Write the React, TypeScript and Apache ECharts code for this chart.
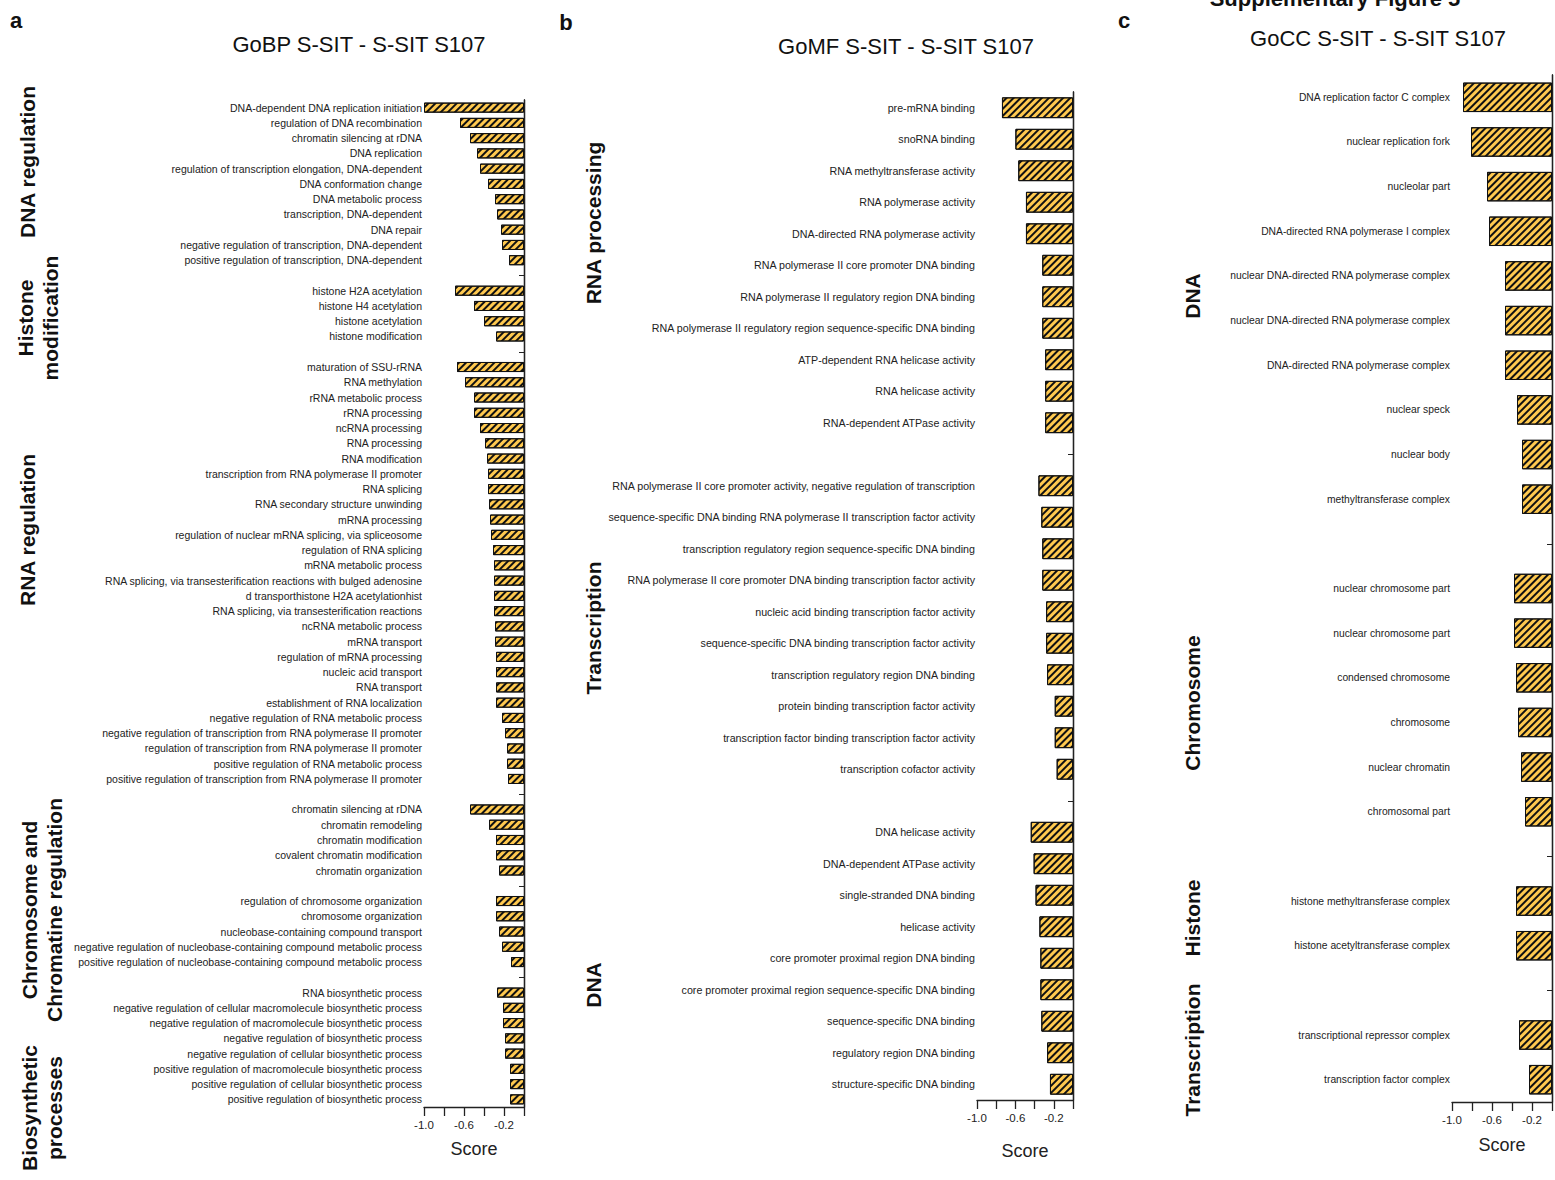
import React, { useEffect, useRef } from "react";
import * as echarts from "echarts";

// ---------- Panel a : GoBP ----------
const aCategories = [
  "DNA-dependent DNA replication initiation",
  "regulation of DNA recombination",
  "chromatin silencing at rDNA",
  "DNA replication",
  "regulation of transcription elongation, DNA-dependent",
  "DNA conformation change",
  "DNA metabolic process",
  "transcription, DNA-dependent",
  "DNA repair",
  "negative regulation of transcription, DNA-dependent",
  "positive regulation of transcription, DNA-dependent",
  "",
  "histone H2A acetylation",
  "histone H4 acetylation",
  "histone acetylation",
  "histone modification",
  "",
  "maturation of SSU-rRNA",
  "RNA methylation",
  "rRNA metabolic process",
  "rRNA processing",
  "ncRNA processing",
  "RNA processing",
  "RNA modification",
  "transcription from RNA polymerase II promoter",
  "RNA splicing",
  "RNA secondary structure unwinding",
  "mRNA processing",
  "regulation of nuclear mRNA splicing, via spliceosome",
  "regulation of RNA splicing",
  "mRNA metabolic process",
  "RNA splicing, via transesterification reactions with bulged adenosine",
  "d transporthistone H2A acetylationhist",
  "RNA splicing, via transesterification reactions",
  "ncRNA metabolic process",
  "mRNA transport",
  "regulation of mRNA processing",
  "nucleic acid transport",
  "RNA transport",
  "establishment of RNA localization",
  "negative regulation of RNA metabolic process",
  "negative regulation of transcription from RNA polymerase II promoter",
  "regulation of transcription from RNA polymerase II promoter",
  "positive regulation of RNA metabolic process",
  "positive regulation of transcription from RNA polymerase II promoter",
  "",
  "chromatin silencing at rDNA",
  "chromatin remodeling",
  "chromatin modification",
  "covalent chromatin modification",
  "chromatin organization",
  "",
  "regulation of chromosome organization",
  "chromosome organization",
  "nucleobase-containing compound transport",
  "negative regulation of nucleobase-containing compound metabolic process",
  "positive regulation of nucleobase-containing compound metabolic process",
  "",
  "RNA biosynthetic process",
  "negative regulation of cellular macromolecule biosynthetic process",
  "negative regulation of macromolecule biosynthetic process",
  "negative regulation of biosynthetic process",
  "negative regulation of cellular biosynthetic process",
  "positive regulation of macromolecule biosynthetic process",
  "positive regulation of cellular biosynthetic process",
  "positive regulation of biosynthetic process",
];
const aValues = [
  -1.0, -0.64, -0.54, -0.47, -0.44, -0.36, -0.29, -0.27, -0.23, -0.22, -0.15,
  null,
  -0.69, -0.5, -0.4, -0.28,
  null,
  -0.67, -0.59, -0.5, -0.5, -0.44, -0.39, -0.37, -0.36, -0.36, -0.35, -0.34,
  -0.33, -0.31, -0.3, -0.3, -0.3, -0.3, -0.29, -0.29, -0.28, -0.28, -0.28,
  -0.28, -0.22, -0.19, -0.17, -0.17, -0.16,
  null,
  -0.54, -0.35, -0.28, -0.28, -0.25,
  null,
  -0.28, -0.28, -0.25, -0.22, -0.13,
  null,
  -0.27, -0.21, -0.21, -0.19, -0.19, -0.14, -0.14, -0.14,
];

// ---------- Panel b : GoMF ----------
const bCategories = [
  "pre-mRNA binding",
  "snoRNA binding",
  "RNA methyltransferase activity",
  "RNA polymerase activity",
  "DNA-directed RNA polymerase activity",
  "RNA polymerase II core promoter DNA binding",
  "RNA polymerase II regulatory region DNA binding",
  "RNA polymerase II regulatory region sequence-specific DNA binding",
  "ATP-dependent RNA helicase activity",
  "RNA helicase activity",
  "RNA-dependent ATPase activity",
  "",
  "RNA polymerase II core promoter activity, negative regulation of transcription",
  "sequence-specific DNA binding RNA polymerase II transcription factor activity",
  "transcription regulatory region sequence-specific DNA binding",
  "RNA polymerase II core promoter DNA binding transcription factor activity",
  "nucleic acid binding transcription factor activity",
  "sequence-specific DNA binding transcription factor activity",
  "transcription regulatory region DNA binding",
  "protein binding transcription factor activity",
  "transcription factor binding transcription factor activity",
  "transcription cofactor activity",
  "",
  "DNA helicase activity",
  "DNA-dependent ATPase activity",
  "single-stranded DNA binding",
  "helicase activity",
  "core promoter proximal region DNA binding",
  "core promoter proximal region sequence-specific DNA binding",
  "sequence-specific DNA binding",
  "regulatory region DNA binding",
  "structure-specific DNA binding",
];
const bValues = [
  -0.74, -0.6, -0.57, -0.49, -0.49, -0.32, -0.32, -0.32, -0.29, -0.29, -0.29,
  null,
  -0.36, -0.33, -0.32, -0.32, -0.28, -0.28, -0.27, -0.19, -0.19, -0.17,
  null,
  -0.44, -0.41, -0.39, -0.35, -0.34, -0.34, -0.33, -0.27, -0.24,
];

// ---------- Panel c : GoCC ----------
const cCategories = [
  "DNA replication factor C complex",
  "nuclear replication fork",
  "nucleolar part",
  "DNA-directed RNA polymerase I complex",
  "nuclear DNA-directed RNA polymerase complex",
  "nuclear DNA-directed RNA polymerase complex",
  "DNA-directed RNA polymerase complex",
  "nuclear speck",
  "nuclear body",
  "methyltransferase complex",
  "",
  "nuclear chromosome part",
  "nuclear chromosome part",
  "condensed chromosome",
  "chromosome",
  "nuclear chromatin",
  "chromosomal part",
  "",
  "histone methyltransferase complex",
  "histone acetyltransferase complex",
  "",
  "transcriptional repressor complex",
  "transcription factor complex",
];
const cValues = [
  -0.89, -0.81, -0.65, -0.63, -0.47, -0.47, -0.47, -0.35, -0.3, -0.3,
  null,
  -0.38, -0.38, -0.36, -0.34, -0.31, -0.27,
  null,
  -0.36, -0.36,
  null,
  -0.33, -0.23,
];

const xTickLabels = ["-1.0", "-0.6", "-0.2"];

const SANS = "'Liberation Sans', Arial, Helvetica, sans-serif";
const AXIS_COLOR = "#222";

function panel(
  idx: number,
  cats: string[],
  vals: (number | null)[],
  grid: any,
  fontSize: number,
  nameGap: number
) {
  return {
    grid: { ...grid, containLabel: false, outerBoundsMode: "none" },
    xAxis: {
      gridIndex: idx,
      type: "value",
      min: -1,
      max: 0,
      interval: 0.2,
      splitLine: { show: false },
      axisLine: { show: true, lineStyle: { color: AXIS_COLOR, width: 1.3 } },
      axisTick: { show: true, length: 9, lineStyle: { color: AXIS_COLOR, width: 1.3 } },
      axisLabel: {
        color: "#222",
        fontFamily: SANS,
        fontSize: 11.5,
        margin: 12,
        formatter: (v: number) => {
          const s = v.toFixed(1);
          return xTickLabels.indexOf(s) >= 0 ? s : "";
        },
      },
      name: "Score",
      nameLocation: "middle",
      nameGap,
      nameTextStyle: { color: "#222", fontFamily: SANS, fontSize: 18 },
    },
    yAxes: [
      {
        gridIndex: idx,
        type: "category",
        data: cats,
        inverse: true,
        position: "left",
        axisLine: { show: true, lineStyle: { color: AXIS_COLOR, width: 1.3 } },
        axisTick: { show: true, alignWithLabel: true, length: 5, lineStyle: { color: AXIS_COLOR, width: 1 } },
        axisLabel: { color: "#222", fontFamily: SANS, fontSize, margin: 2, interval: 0 },
      },
      {
        gridIndex: idx,
        type: "category",
        data: cats,
        inverse: true,
        position: "right",
        axisLine: { show: true, lineStyle: { color: AXIS_COLOR, width: 1.3 } },
        axisTick: { show: false },
        axisLabel: { show: false },
      },
    ],
    series: {
      type: "bar",
      xAxisIndex: idx,
      yAxisIndex: idx * 2,
      data: vals,
      barCategoryGap: "34%",
      itemStyle: {
        color: "#FFC94F",
        borderColor: "#111",
        borderWidth: 1,
        decal: {
          symbol: "rect",
          symbolSize: 1,
          color: "#111",
          dashArrayX: [1, 0],
          dashArrayY: [2, 3],
          rotation: -Math.PI / 4,
        },
      },
    },
  };
}

export default function App() {
  const ref = useRef<HTMLDivElement>(null);
  useEffect(() => {
    if (!ref.current) return;
    const chart = echarts.init(ref.current, undefined, { renderer: "svg" });
    const pa = panel(0, aCategories, aValues, { left: 424, width: 100, top: 100, height: 1007 }, 10.5, 33);
    const pb = panel(1, bCategories, bValues, { left: 977, width: 96, top: 92, height: 1008 }, 10.7, 42);
    const pc = panel(2, cCategories, cValues, { left: 1452, width: 100, top: 75, height: 1027 }, 10.3, 34);
    const ps = [pa, pb, pc];

    const txt = (text: string, x: number, y: number, font: string, rot = 0, lineHeight?: number) => ({
      type: "text",
      x,
      y,
      rotation: rot,
      style: {
        text,
        font,
        fill: "#111",
        textAlign: "center",
        textVerticalAlign: "middle",
        ...(lineHeight ? { lineHeight } : {}),
      },
    });
    const bold = `bold 21px ${SANS}`;
    const R = Math.PI / 2;

    chart.setOption({
      animation: false,
      backgroundColor: "#fff",
      grid: ps.map((p) => p.grid),
      xAxis: ps.map((p) => p.xAxis),
      yAxis: ps.flatMap((p) => p.yAxes),
      series: ps.map((p) => p.series),
      graphic: [
        txt("Supplementary Figure 5", 1335, -2, `bold 22px ${SANS}`),
        txt("a", 16, 20, `bold 22px ${SANS}`),
        txt("b", 566, 22, `bold 22px ${SANS}`),
        txt("c", 1124, 20, `bold 22px ${SANS}`),
        txt("GoBP S-SIT - S-SIT S107", 359, 44, `22px ${SANS}`),
        txt("GoMF S-SIT - S-SIT S107", 906, 46, `22px ${SANS}`),
        txt("GoCC S-SIT - S-SIT S107", 1378, 38, `22px ${SANS}`),
        txt("DNA regulation", 27, 162, bold, R),
        txt("Histone\nmodification", 38, 318, bold, R, 25),
        txt("RNA regulation", 27, 530, bold, R),
        txt("Chromosome and\nChromatine regulation", 42, 910, bold, R, 25),
        txt("Biosynthetic\nprocesses", 42, 1108, bold, R, 25),
        txt("RNA processing", 593, 223, bold, R),
        txt("Transcription", 593, 628, bold, R),
        txt("DNA", 593, 985, bold, R),
        txt("DNA", 1192, 296, bold, R),
        txt("Chromosome", 1192, 703, bold, R),
        txt("Histone", 1192, 918, bold, R),
        txt("Transcription", 1192, 1050, bold, R),
      ],
    });
    return () => chart.dispose();
  }, []);
  return (
    <div
      ref={ref}
      style={{ position: "absolute", left: 0, top: 0, width: 1555, height: 1180, background: "#fff" }}
    />
  );
}
